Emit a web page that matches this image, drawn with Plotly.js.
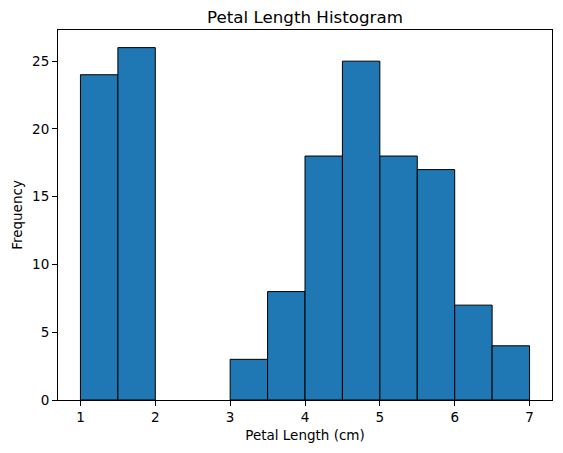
<!DOCTYPE html>
<html>
<head>
<meta charset="utf-8">
<script src="https://cdn.plot.ly/plotly-3.0.1.min.js"></script>
<style>
  body { margin: 0; background: #fff; }
  #chart { width: 563px; height: 453px; }
</style>
</head>
<body>
<div id="chart"></div>
<script>
// bin edges and counts
var binStarts = [1.0, 1.5, 2.0, 2.5, 3.0, 3.5, 4.0, 4.5, 5.0, 5.5, 6.0, 6.5];
var counts = [24, 26, 0, 0, 3, 8, 18, 25, 18, 17, 7, 4];
var binWidth = 0.5;
var xTicks = [1, 2, 3, 4, 5, 6, 7];
var yTicks = [0, 5, 10, 15, 20, 25];

var centers = binStarts.map(function(s){ return s + binWidth / 2; });

var trace = {
  type: 'bar',
  x: centers,
  y: counts,
  width: binStarts.map(function(){ return binWidth; }),
  marker: {
    color: '#1f77b4',
    // empty bins leave no outline on the baseline
    line: { color: '#000000', width: counts.map(function(c){ return c > 0 ? 1 : 0; }) }
  },
  hoverinfo: 'x+y'
};

var fnt = { family: 'DejaVu Sans', size: 13.5, color: '#000' };

var layout = {
  width: 563,
  height: 453,
  margin: { l: 57.5, r: 10.5, t: 30, b: 53 },
  paper_bgcolor: '#fff',
  plot_bgcolor: '#fff',
  font: fnt,
  showlegend: false,
  bargap: 0,
  title: {
    text: 'Petal Length Histogram',
    font: { family: 'DejaVu Sans', size: 16.7, color: '#000' },
    xref: 'paper', x: 0.5, xanchor: 'center',
    y: 1 - 17 / 453, yanchor: 'middle'
  },
  xaxis: {
    range: [0.7, 7.3],
    tickvals: xTicks,
    ticktext: xTicks.map(String),
    ticks: 'outside', ticklen: 5, tickwidth: 1, tickcolor: '#000',
    showgrid: false, zeroline: false,
    showline: true, linecolor: '#000', linewidth: 1, mirror: true,
    tickfont: fnt,
    title: { text: 'Petal Length (cm)', font: fnt, standoff: 6 }
  },
  yaxis: {
    range: [0, 27.3],
    tickvals: yTicks,
    ticktext: yTicks.map(String),
    ticks: 'outside', ticklen: 5, tickwidth: 1, tickcolor: '#000',
    showgrid: false, zeroline: false,
    showline: true, linecolor: '#000', linewidth: 1, mirror: true,
    tickfont: fnt,
    title: { text: 'Frequency', font: fnt, standoff: 6 }
  }
};

Plotly.newPlot('chart', [trace], layout, { displayModeBar: false, staticPlot: true });
</script>
</body>
</html>
